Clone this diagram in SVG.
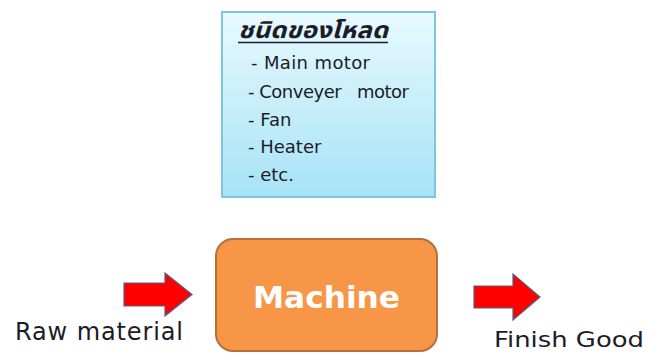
<svg xmlns="http://www.w3.org/2000/svg" width="651" height="353" viewBox="0 0 651 353">
  <defs>
    <linearGradient id="loadFill" x1="0" y1="0" x2="0" y2="1">
      <stop offset="0" stop-color="#E8F9FE"/>
      <stop offset="1" stop-color="#A6E3F6"/>
    </linearGradient>
    <style>
      .lbl { font-family: "DejaVu Sans", "Noto Sans", sans-serif; fill: #1C1C28; }
      .item { font-size: 18px; }
      .flow { fill: #FF0000; stroke: #4F6284; stroke-width: 1.2; stroke-linejoin: miter; }
    </style>
  </defs>

  <rect width="651" height="353" fill="#FFFFFF"/>

  <!-- load types box -->
  <g id="load-types">
    <rect x="222" y="12" width="213" height="185" fill="url(#loadFill)" stroke="#7DC6DC" stroke-width="2"/>
    <text x="238" y="38" font-size="23" font-weight="bold" font-style="italic" font-family="'Noto Sans Thai', 'Noto Sans', sans-serif" fill="#1C1C28" textLength="150" lengthAdjust="spacingAndGlyphs">ชนิดของโหลด</text>
    <line x1="238" y1="42.5" x2="388" y2="42.5" stroke="#1C1C28" stroke-width="1.5"/>
    <text class="lbl item" x="251" y="69" textLength="119">- Main motor</text>
    <text class="lbl item" x="248" y="98" xml:space="preserve" textLength="161">- Conveyer   motor</text>
    <text class="lbl item" x="248" y="126">- Fan</text>
    <text class="lbl item" x="248" y="153">- Heater</text>
    <text class="lbl item" x="248" y="181">- etc.</text>
  </g>

  <!-- machine -->
  <g id="machine">
    <rect x="216" y="239" width="221" height="112" rx="17" ry="17" fill="#F79646" stroke="#B8703A" stroke-width="2"/>
    <text x="326.5" y="308" text-anchor="middle" font-family="'DejaVu Sans', 'Noto Sans', sans-serif" font-size="30" font-weight="bold" fill="#FFFFFF" textLength="147" lengthAdjust="spacingAndGlyphs">Machine</text>
  </g>

  <!-- input / output labels -->
  <g id="raw-material">
    <text class="lbl" x="15" y="340" font-size="24" textLength="168">Raw material</text>
  </g>
  <g id="finish-good">
    <text class="lbl" x="494" y="347" font-size="21" textLength="150" lengthAdjust="spacingAndGlyphs">Finish Good</text>
  </g>

  <!-- flow arrows -->
  <g id="connectors">
    <polygon class="flow" points="124,283 165,283 165,273 192,294.5 165,316 165,306 124,306"/>
    <polygon class="flow" points="474,286 513,286 513,274 540,297 513,320 513,308 474,308"/>
  </g>
</svg>
